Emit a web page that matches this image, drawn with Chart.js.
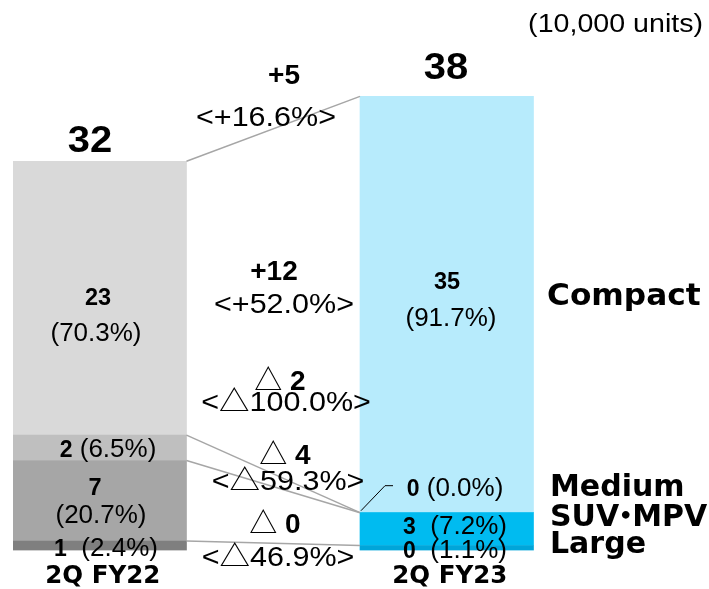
<!DOCTYPE html>
<html>
<head>
<meta charset="utf-8">
<script src="https://cdn.jsdelivr.net/npm/chart.js@4.4.1/dist/chart.umd.min.js"></script>
<style>
  html, body { margin: 0; padding: 0; background: #ffffff; }
  #wrap { width: 709px; height: 589px; position: relative; }
</style>
</head>
<body>
<div id="wrap"><canvas id="chart"></canvas></div>
<script>
// Unit sales by body type, 10,000 units
const categories = ['2Q FY22', '2Q FY23'];
const large   = [0.78, 0.414];
const suvMpv  = [6.68, 2.72];
const medium  = [2.1, 0];
const compact = [22.7, 34.5];

// Share of each quarter's total
const largeShare   = ['2.4%', '1.1%'];
const suvMpvShare  = ['20.7%', '7.2%'];
const mediumShare  = ['6.5%', '0.0%'];
const compactShare = ['70.3%', '91.7%'];

// Year-on-year change rates: total, compact, medium, SUV・MPV, large
const changeRates = ['+16.6%', '+52.0%', '△100.0%', '△59.3%', '△46.9%'];

const segmentNames = ['Large', 'SUV・MPV', 'Medium', 'Compact'];

const greys = ['#7f7f7f', '#a6a6a6', '#bfbfbf', '#d9d9d9'];
const blues = ['#00a5d9', '#00bbf0', '#7fd9f6', '#b7ebfc'];

const totals = categories.map((_, i) => large[i] + suvMpv[i] + medium[i] + compact[i]);

// Four equal slots: FY22 bar, gap, FY23 bar, segment names
const slotLabels = [categories[0], '', categories[1], ''];
const place = (arr) => [arr[0], null, arr[1], null];
const paint = (i) => [greys[i], 'rgba(0,0,0,0)', blues[i], 'rgba(0,0,0,0)'];

const series = [large, suvMpv, medium, compact];

const SANS = '"Liberation Sans", Arial, "Noto Sans CJK JP", sans-serif';
const WIDE = '"DejaVu Sans", Verdana, "Noto Sans CJK JP", sans-serif';

function fontOf(r) {
  return (r.b ? 'bold ' : '') + r.s + 'px ' + (r.f || SANS);
}

// Draw a run of differently styled pieces of text on one baseline.
// A piece may override its advance (adv) and shift its glyph (dx).
function drawRuns(ctx, runs, x, y, align, sx) {
  sx = sx || 1;
  let w = 0, maxS = 0;
  runs.forEach(r => {
    ctx.font = fontOf(r);
    r.w = r.adv != null ? r.adv : ctx.measureText(r.t).width;
    w += r.w;
    maxS = Math.max(maxS, r.s);
  });
  ctx.save();
  ctx.translate(x, y + 0.36 * maxS);
  ctx.scale(sx, 1);
  let cx = align === 'left' ? 0 : (align === 'right' ? -w : -w / 2);
  ctx.textAlign = 'left';
  ctx.textBaseline = 'alphabetic';
  ctx.fillStyle = '#000000';
  runs.forEach(r => {
    ctx.font = fontOf(r);
    ctx.fillText(r.t, cx + (r.dx || 0), 0);
    cx += r.w;
  });
  ctx.restore();
}

function fmtChange(v) {
  const n = Math.round(Math.abs(v));
  return v >= 0 ? '+' + n : '△ ' + n;
}

// split a name around the middle dot so the dot can sit in a narrow cell
function nameRuns(name, size) {
  const parts = name.split('・');
  const runs = [];
  parts.forEach((p, i) => {
    if (i > 0) runs.push({ t: '・', s: size, b: true, f: WIDE, adv: 13, dx: -8.5 });
    runs.push({ t: p, s: size, b: true, f: WIDE });
  });
  return runs;
}

const annotate = {
  id: 'annotate',
  afterDatasetsDraw(chart) {
    const ctx = chart.ctx;
    const metas = series.map((_, i) => chart.getDatasetMeta(i));
    const edge = (el, side) => el.x + side * el.width / 2;

    // connectors between the tops of matching segments
    ctx.save();
    ctx.strokeStyle = '#a6a6a6';
    ctx.lineWidth = 1.5;
    metas.forEach(m => {
      const a = m.data[0], b = m.data[2];
      ctx.beginPath();
      ctx.moveTo(edge(a, 1), a.y);
      ctx.lineTo(edge(b, -1), b.y);
      ctx.stroke();
    });
    ctx.restore();

    // leader for the empty Medium segment
    const med = metas[2].data[2];
    ctx.save();
    ctx.strokeStyle = '#000000';
    ctx.lineWidth = 1;
    ctx.beginPath();
    ctx.moveTo(edge(med, -1) + 1, med.y - 2);
    ctx.lineTo(edge(med, -1) + 25, med.y - 27);
    ctx.lineTo(edge(med, -1) + 33, med.y - 27);
    ctx.stroke();
    ctx.restore();

    const R = (t, s, b, f) => ({ t, s, b, f });

    // unit note
    drawRuns(ctx, [R('(10,000 units)', 26)], 703, 23, 'right', 1.1);

    // totals
    drawRuns(ctx, [R(String(Math.round(totals[0])), 37, true)], 90, 139, 'center', 1.08);
    drawRuns(ctx, [R(String(Math.round(totals[1])), 37, true)], 446, 66, 'center', 1.08);

    // left bar segment values
    drawRuns(ctx, [R(String(Math.round(compact[0])), 23.5, true)], 98, 297, 'center');
    drawRuns(ctx, [R('(' + compactShare[0] + ')', 26)], 96, 332, 'center');
    drawRuns(ctx, [R(String(Math.round(medium[0])), 23, true), R(' (' + mediumShare[0] + ')', 26)], 108, 448, 'center');
    drawRuns(ctx, [R(String(Math.round(suvMpv[0])), 23.5, true)], 95, 487, 'center');
    drawRuns(ctx, [R('(' + suvMpvShare[0] + ')', 26)], 101, 514, 'center');
    drawRuns(ctx, [R(String(Math.round(large[0])), 23, true), R('  (' + largeShare[0] + ')', 26)], 106, 547, 'center');

    // right bar segment values
    drawRuns(ctx, [R(String(Math.round(compact[1])), 23.5, true)], 447, 281, 'center');
    drawRuns(ctx, [R('(' + compactShare[1] + ')', 26)], 451, 317, 'center');
    drawRuns(ctx, [R(String(Math.round(medium[1])), 23, true), R(' (' + mediumShare[1] + ')', 26)], 455, 487, 'center');
    drawRuns(ctx, [R(String(Math.round(suvMpv[1])), 23, true), R('  (' + suvMpvShare[1] + ')', 26)], 455, 525, 'center');
    drawRuns(ctx, [R(String(Math.round(large[1])), 23, true), R('  (' + largeShare[1] + ')', 26)], 455, 549, 'center');

    // changes between the quarters
    const diffs = [
      totals[1] - totals[0],
      compact[1] - compact[0],
      medium[1] - medium[0],
      suvMpv[1] - suvMpv[0],
      large[1] - large[0]
    ];
    const spots = [
      [284, 74, 266, 116],
      [274, 270, 284, 303],
      [280, 380, 286, 401],
      [285, 454, 288, 480],
      [275, 523, 278, 556]
    ];
    diffs.forEach((d, i) => {
      const s = fmtChange(d);
      const runs = s.startsWith('△')
        ? [R('△ ', 28), R(s.slice(2), 28, true)]
        : [R(s, 28, true)];
      drawRuns(ctx, runs, spots[i][0], spots[i][1], 'center');
      drawRuns(ctx, [R('<' + changeRates[i] + '>', 28)], spots[i][2], spots[i][3], 'center', 1.09);
    });

    // segment names
    drawRuns(ctx, nameRuns(segmentNames[3], 30), 547, 294, 'left', 1.04);
    drawRuns(ctx, nameRuns(segmentNames[2], 30), 550, 485, 'left');
    drawRuns(ctx, nameRuns(segmentNames[1], 30), 550, 515, 'left');
    drawRuns(ctx, nameRuns(segmentNames[0], 30), 550, 542, 'left');
  }
};

new Chart(document.getElementById('chart'), {
  type: 'bar',
  data: {
    labels: slotLabels,
    datasets: series.map((arr, i) => ({
      label: segmentNames[i],
      data: place(arr),
      backgroundColor: paint(i),
      borderWidth: 0,
      categoryPercentage: 1.0,
      barPercentage: 1.0
    }))
  },
  options: {
    responsive: true,
    maintainAspectRatio: false,
    animation: false,
    layout: { padding: { left: 13, right: 2, top: 0, bottom: 0 } },
    plugins: {
      legend: { display: false },
      tooltip: { enabled: false }
    },
    scales: {
      x: {
        stacked: true,
        grid: { display: false, drawTicks: false },
        border: { display: false },
        ticks: {
          autoSkip: false,
          maxRotation: 0,
          padding: 11,
          labelOffset: 3,
          color: '#000000',
          font: { family: WIDE, size: 24.5, weight: 'bold' }
        },
        afterFit(scale) { scale.height = 38.5; }
      },
      y: {
        stacked: true,
        display: false,
        min: 0,
        max: 45.62
      }
    }
  },
  plugins: [annotate]
});
</script>
</body>
</html>
